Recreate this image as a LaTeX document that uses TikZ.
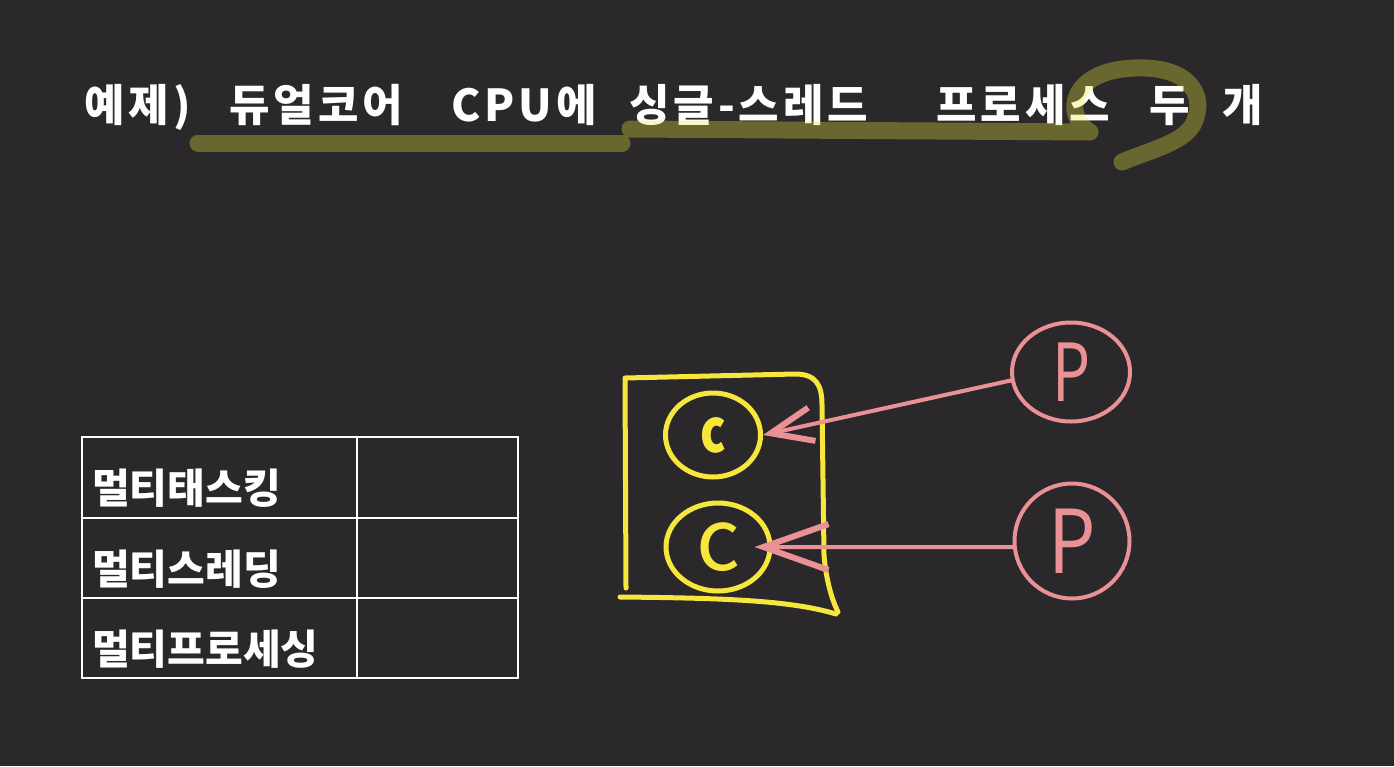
\documentclass[tikz,border=0pt]{standalone}
\usepackage{fontspec}
\newfontfamily\kr{Noto Sans CJK KR}
\newfontfamily\krs{Noto Sans CJK KR}[LetterSpace=9]
\usetikzlibrary{shapes.geometric,arrows.meta}
\definecolor{bg}{RGB}{42,40,43}
\definecolor{hl}{RGB}{235,232,60}
\definecolor{cyel}{RGB}{247,230,60}
\definecolor{cpink}{RGB}{234,145,150}
\tikzset{
  hlstroke/.style={draw=hl, draw opacity=0.33, line width=17pt, line cap=round, line join=round},
  tabline/.style={draw=white, line width=2.5pt},
  celltext/.style={anchor=base west, inner sep=0, text=white, font=\kr\bfseries\fontsize{41}{46}\selectfont},
  ycirc/.style={ellipse, draw=cyel, line width=5pt, inner sep=0, text=cyel},
  yline/.style={draw=cyel, line width=5pt, line cap=round, line join=round},
  pcirc/.style={ellipse, draw=cpink, line width=4pt, inner sep=0, text=cpink},
  parrow/.style={draw=cpink, line width=4pt, line cap=round},
}
\begin{document}
\begin{tikzpicture}[x=1pt,y=-1pt]
\useasboundingbox (0,0) rectangle (1394,766);
\fill[bg] (0,0) rectangle (1394,766);

% title
\node[anchor=base west, inner sep=0, text=white, font=\krs\bfseries\fontsize{44}{50}\selectfont] (title) at (84,121)
  {\makebox[145pt][l]{예제)}\makebox[222pt][l]{듀얼코어}\makebox[178pt][l]{CPU에}\makebox[307pt][l]{싱글\kern4pt-\kern4pt스레드}\makebox[213pt][l]{프로세스}\makebox[73pt][l]{두}개};

% highlighter strokes
\draw[hlstroke] (198,143) -- (622,143);
\draw[hlstroke] (630,129) -- (1090,132) .. controls (1062,115) and (1070,70) .. (1135,68)
  .. controls (1190,66) and (1205,95) .. (1195,120) .. controls (1188,142) and (1150,150) .. (1122,162);

% table
\draw[tabline] (82,437) rectangle (518,678);
\draw[tabline] (357,437) -- (357,678);
\draw[tabline] (82,518) -- (518,518);
\draw[tabline] (82,598) -- (518,598);
\node[celltext] (t1) at (92,503) {멀티태스킹};
\node[celltext] (t2) at (92,584) {멀티스레딩};
\node[celltext] (t3) at (92,664) {멀티프로세싱};

% CPU box
\draw[yline] (626,588) -- (625,378) -- (795,374) .. controls (816,374) and (822,385) .. (822,405)
  -- (824,555) .. controls (826,580) and (832,600) .. (838,612);
\draw[yline] (620,597) .. controls (720,598) and (790,600) .. (836,614);

% cores
\node[ycirc, minimum width=95pt, minimum height=84pt, font=\kr\bfseries\fontsize{60}{60}\selectfont] (c1) at (713,435) {\scalebox{0.8}[1]{c}};
\node[ycirc, minimum width=104pt, minimum height=88pt, font=\kr\fontsize{86}{86}\selectfont] (c2) at (718,547) {c};

% processes
\node[pcirc, minimum width=118pt, minimum height=99pt, font=\kr\fontsize{80}{80}\selectfont] (p1) at (1071,372) {\scalebox{0.75}[1]{P}};
\node[pcirc, minimum width=115pt, minimum height=115pt, font=\kr\fontsize{88}{88}\selectfont] (p2) at (1072,541) {\scalebox{0.85}[1]{P}};

% arrows
\draw[parrow, -{Straight Barb[length=42pt,width=34pt,line width=6pt]}] (p1.188) -- (c1.east);
\draw[parrow, -{Straight Barb[length=65pt,width=46pt,line width=6pt]}] (p2.186) -- ([xshift=-18pt]c2.east);
\end{tikzpicture}
\end{document}
